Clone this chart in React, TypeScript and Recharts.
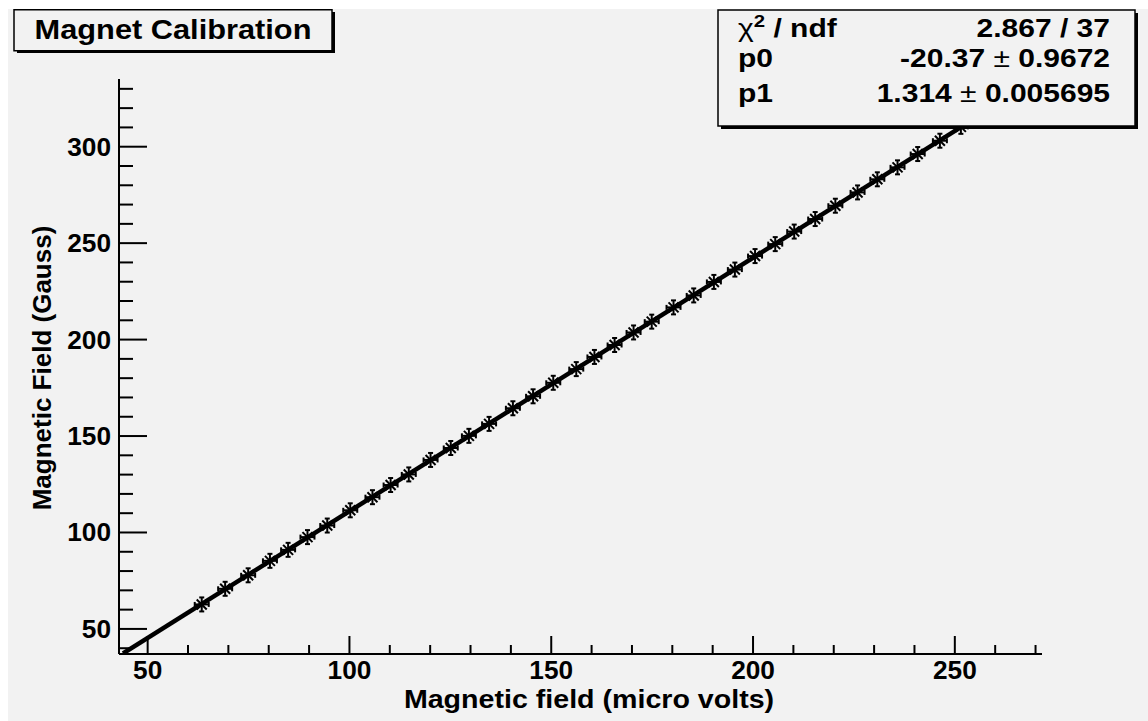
import React from "react";
import { ComposedChart, Scatter, XAxis, YAxis } from "recharts";

const FONT = "'Liberation Sans', Arial, Helvetica, sans-serif";

// measured points (micro volts -> gauss)
const pointX = [
  63.4, 69.2, 74.9, 80.3, 84.8, 89.6, 94.5, 100.2, 105.7, 110.2, 114.7, 120.1, 125.1,
  129.6, 134.6, 140.5, 145.5, 150.5, 156.2, 160.7, 165.7, 170.4, 174.9, 180.3, 185.3,
  190.3, 195.5, 200.5, 205.5, 210.2, 215.4, 220.4, 225.9, 230.8, 235.8, 240.8, 246.3,
  251.5, 256.4,
];
const pointY = [
  62.7, 70.8, 77.8, 85.3, 91.0, 97.6, 103.6, 111.5, 118.3, 124.6, 130.1, 137.6, 143.8,
  150.1, 156.3, 164.4, 170.6, 177.6, 184.7, 191.0, 197.2, 203.7, 209.3, 216.7, 222.9,
  229.9, 236.3, 243.3, 249.5, 256.0, 262.5, 269.4, 276.3, 283.1, 289.3, 296.2, 303.1,
  310.3, 316.5,
];

// pol1 fit line end points
const fitX = [43.9, 252.5];
const fitY = [37.3, 311.4];

const xTicks = [50, 60, 70, 80, 90, 100, 110, 120, 130, 140, 150, 160, 170, 180, 190, 200, 210, 220, 230, 240, 250, 260, 270];
const yTicks = [40, 50, 60, 70, 80, 90, 100, 110, 120, 130, 140, 150, 160, 170, 180, 190, 200, 210, 220, 230, 240, 250, 260, 270, 280, 290, 300, 310, 320, 330];
const xDomain = [42.9, 271.6];
const yDomain = [37.0, 335.1];

const title = "Magnet Calibration";
const xTitle = "Magnetic field (micro volts)";
const yTitle = "Magnetic Field (Gauss)";
const chi2Text = "2.867 / 37";
const parNames = ["p0", "p1"];
const parValues = ["-20.37", "1.314"];
const parErrors = ["0.9672", "0.005695"];

const points = pointX.map((x, i) => ({ x, y: pointY[i] }));
const fitPts = fitX.map((x, i) => ({ x, y: fitY[i] }));

function Star(props: any) {
  const { cx, cy } = props;
  if (cx == null || cy == null) return <g />;
  const r = 7;
  const d = 5;
  return (
    <g stroke="#000" strokeWidth={2}>
      <line x1={cx - r} y1={cy} x2={cx + r} y2={cy} />
      <line x1={cx} y1={cy - r} x2={cx} y2={cy + r} />
      <line x1={cx - d} y1={cy - d} x2={cx + d} y2={cy + d} />
      <line x1={cx - d} y1={cy + d} x2={cx + d} y2={cy - d} />
      <line x1={cx - r} y1={cy - 2.5} x2={cx - r} y2={cy + 2.5} />
      <line x1={cx + r} y1={cy - 2.5} x2={cx + r} y2={cy + 2.5} />
      <line x1={cx - 2.5} y1={cy - r} x2={cx + 2.5} y2={cy - r} />
      <line x1={cx - 2.5} y1={cy + r} x2={cx + 2.5} y2={cy + r} />
    </g>
  );
}

function XTick(props: any) {
  const { x, y, payload } = props;
  const major = payload.value % 50 === 0;
  return (
    <g>
      <line x1={x} y1={y} x2={x} y2={y - (major ? 18 : 9)} stroke="#000" strokeWidth={2} />
      {major && (
        <text
          transform={`translate(${x},${y + 25}) scale(1.05,1)`}
          textAnchor="middle"
          fontSize={25}
          fontWeight="bold"
          fontFamily={FONT}
          fill="#000"
        >
          {payload.value}
        </text>
      )}
    </g>
  );
}

function YTick(props: any) {
  const { x, y, payload } = props;
  const major = payload.value % 50 === 0;
  return (
    <g>
      <line x1={x} y1={y} x2={x + (major ? 28 : 14)} y2={y} stroke="#000" strokeWidth={2} />
      {major && (
        <text
          transform={`translate(${x - 8},${y + 9}) scale(1.05,1)`}
          textAnchor="end"
          fontSize={25}
          fontWeight="bold"
          fontFamily={FONT}
          fill="#000"
        >
          {payload.value}
        </text>
      )}
    </g>
  );
}

const txt = { fontFamily: FONT, fontWeight: "bold" as const, fill: "#000" };

function Overlay() {
  const rowBase = [28, 58, 93];
  return (
    <svg
      width={1140}
      height={712}
      style={{ position: "absolute", left: 0, top: 0, pointerEvents: "none" }}
    >
      {/* title box */}
      <rect x={9} y={3} width={318} height={41} fill="#000" />
      <rect x={6} y={0.75} width={318} height={41} fill="#f2f2f2" stroke="#000" strokeWidth={1.5} />
      <text transform="translate(165,30) scale(1.14,1)" textAnchor="middle" fontSize={27} {...txt}>
        {title}
      </text>

      {/* stats box */}
      <rect x={713} y={4} width={417} height={116} fill="#000" />
      <rect x={710} y={1} width={417} height={116} fill="#f2f2f2" stroke="#000" strokeWidth={1.5} />
      <text transform={`translate(730,${rowBase[0]}) scale(1.2,1)`} fontSize={25} {...txt}>
        <tspan fontWeight="normal">χ</tspan>
        <tspan fontSize={17} dy={-10}>2</tspan>
        <tspan dy={10}> / ndf</tspan>
      </text>
      <text transform={`translate(1102,${rowBase[0]}) scale(1.2,1)`} textAnchor="end" fontSize={25} {...txt}>
        {chi2Text}
      </text>
      {parNames.map((name, i) => (
        <g key={name}>
          <text transform={`translate(730,${rowBase[i + 1]}) scale(1.2,1)`} fontSize={25} {...txt}>
            {name}
          </text>
          <text
            transform={`translate(1102,${rowBase[i + 1]}) scale(1.2,1)`}
            textAnchor="end"
            fontSize={25}
            {...txt}
          >
            {parValues[i]} <tspan fontWeight="normal">±</tspan> {parErrors[i]}
          </text>
        </g>
      ))}

      {/* axis titles */}
      <text transform="translate(581,699) scale(1.1,1)" textAnchor="middle" fontSize={26} {...txt}>
        {xTitle}
      </text>
      <text transform="translate(43,359) rotate(-90)" textAnchor="middle" fontSize={26} {...txt}>
        {yTitle}
      </text>
    </svg>
  );
}

export default function App() {
  return (
    <div
      style={{
        position: "absolute",
        left: 8,
        top: 9,
        width: 1140,
        height: 712,
        background: "#f2f2f2",
      }}
    >
      <ComposedChart
        width={1140}
        height={712}
        margin={{ top: 70, right: 106, bottom: 27, left: 51 }}
      >
        <XAxis
          dataKey="x"
          type="number"
          domain={xDomain}
          allowDataOverflow
          ticks={xTicks}
          interval={0}
          tickSize={0}
          tickMargin={0}
          tickLine={false}
          tick={<XTick />}
          height={40}
          axisLine={{ stroke: "#000", strokeWidth: 2 }}
        />
        <XAxis
          xAxisId="top"
          orientation="top"
          dataKey="x"
          type="number"
          domain={xDomain}
          allowDataOverflow
          tick={false}
          tickLine={false}
          height={0}
          axisLine={{ stroke: "#000", strokeWidth: 2 }}
        />
        <YAxis
          dataKey="y"
          type="number"
          domain={yDomain}
          allowDataOverflow
          ticks={yTicks}
          interval={0}
          tickSize={0}
          tickMargin={0}
          tickLine={false}
          tick={<YTick />}
          width={60}
          axisLine={{ stroke: "#000", strokeWidth: 2 }}
        />
        <YAxis
          yAxisId="right"
          orientation="right"
          dataKey="y"
          type="number"
          domain={yDomain}
          allowDataOverflow
          tick={false}
          tickLine={false}
          width={0}
          axisLine={{ stroke: "#000", strokeWidth: 2 }}
        />
        <Scatter
          data={fitPts}
          line={{ stroke: "#000", strokeWidth: 4.5 }}
          shape={() => <g />}
          isAnimationActive={false}
        />
        <Scatter data={points} shape={<Star />} isAnimationActive={false} />
      </ComposedChart>
      <Overlay />
    </div>
  );
}
